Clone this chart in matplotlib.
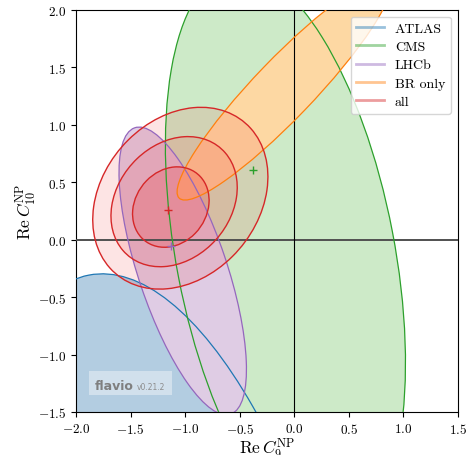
import matplotlib
matplotlib.use("Agg")
import matplotlib.pyplot as plt
from matplotlib.patches import Ellipse, Rectangle
from matplotlib.lines import Line2D

plt.rcParams["font.family"] = "serif"
plt.rcParams["font.serif"] = ["cmr10"]
plt.rcParams["mathtext.fontset"] = "cm"
plt.rcParams["axes.formatter.use_mathtext"] = True

LABELS      = ["ATLAS", "CMS", "LHCb", "BR only"]
LINE_COLORS = ["#1f77b4", "#2ca02c", "#9467bd", "#ff7f0e"]
FILL_COLORS = ["#b3cde1", "#cdeac8", "#dfcce4", "#fdd8a3"]
CENTERS     = [(-1.020, -5.000), (-0.081, -0.128), (-1.022, -0.273), (-0.094, 1.311)]
WIDTHS      = [9.539, 5.033, 2.642, 2.702]
HEIGHTS     = [3.596, 1.999, 0.808, 0.529]
ANGLES      = [-79.58, -78.53, -70.42, 44.60]

# combined fit ("all"), 1/2/3 sigma
ALL_CENTERS = [(-1.131, 0.283), (-1.101, 0.330), (-1.044, 0.360)]
ALL_WIDTHS  = [0.757, 1.265, 1.772]
ALL_HEIGHTS = [0.639, 1.010, 1.392]
ALL_ANGLES  = [44.61, 42.18, 43.23]
ALL_ALPHAS  = [0.21, 0.13, 0.13]
ALL_COLOR   = "#d62728"
ALL_FILL    = "#f03232"

# best fit points (CMS, LHCb, all)
BF_X      = [-0.377, -1.133, -1.155]
BF_Y      = [0.603, -0.054, 0.261]
BF_COLORS = ["#2ca02c", "#9467bd", "#d62728"]

XTICKS = [-2.0, -1.5, -1.0, -0.5, 0.0, 0.5, 1.0, 1.5]
YTICKS = [-1.5, -1.0, -0.5, 0.0, 0.5, 1.0, 1.5, 2.0]


def region(center, width, height, angle, **kw):
    return Ellipse(center, width, height, angle=angle, **kw)


def main():
    fig = plt.figure(figsize=(4.67, 4.56), dpi=100)
    ax = fig.add_axes([0.1627, 0.0943, 0.818, 0.8822])

    # fills first, outlines afterwards so every edge stays visible
    for i in range(len(LABELS)):
        ax.add_patch(region(CENTERS[i], WIDTHS[i], HEIGHTS[i], ANGLES[i],
                            facecolor=FILL_COLORS[i], edgecolor="none", zorder=1))
    for i in (2, 1, 0):
        ax.add_patch(region(ALL_CENTERS[i], ALL_WIDTHS[i], ALL_HEIGHTS[i], ALL_ANGLES[i],
                            facecolor=ALL_FILL, alpha=ALL_ALPHAS[i], edgecolor="none", zorder=2))

    ax.axhline(0, color="#505050", lw=1.4, zorder=3)
    ax.axvline(0, color="k", lw=0.8, zorder=3)

    for i in range(len(LABELS)):
        ax.add_patch(region(CENTERS[i], WIDTHS[i], HEIGHTS[i], ANGLES[i],
                            facecolor="none", edgecolor=LINE_COLORS[i], lw=0.9, zorder=4))
    for i in range(len(ALL_CENTERS)):
        ax.add_patch(region(ALL_CENTERS[i], ALL_WIDTHS[i], ALL_HEIGHTS[i], ALL_ANGLES[i],
                            facecolor="none", edgecolor=ALL_COLOR, lw=1.0, zorder=4))

    for x, y, col in zip(BF_X, BF_Y, BF_COLORS):
        ax.plot(x, y, "+", color=col, ms=6, mew=1.0, zorder=5)

    handles = [Line2D([], [], color=col, lw=2, alpha=0.45) for col in LINE_COLORS + [ALL_COLOR]]
    ax.legend(handles, LABELS + ["all"], loc="upper right", fontsize=10,
              labelspacing=0.4, handlelength=2.0)

    # flavio branding box
    ax.add_patch(Rectangle((0.034, 0.042), 0.217, 0.06, transform=ax.transAxes,
                           facecolor="white", alpha=0.4, edgecolor="none", zorder=6))
    ax.text(0.05, 0.057, "flavio", transform=ax.transAxes, family="DejaVu Sans",
            weight="bold", fontsize=9, color="#7f7f7f", zorder=7)
    ax.text(0.16, 0.057, "v0.21.2", transform=ax.transAxes, family="DejaVu Sans",
            fontsize=5.5, color="#8c8c8c", zorder=7)

    ax.set_xlim(-2, 1.5)
    ax.set_ylim(-1.5, 2)
    ax.set_xticks(XTICKS)
    ax.set_yticks(YTICKS)
    ax.tick_params(labelsize=9.5)
    ax.set_xlabel(r"$\mathrm{Re}\,C_9^\mathrm{NP}$", fontsize=12.5, labelpad=0)
    ax.set_ylabel(r"$\mathrm{Re}\,C_{10}^\mathrm{NP}$", fontsize=12.5, labelpad=0)

    fig.savefig("out.png", dpi=100)


if __name__ == "__main__":
    main()
